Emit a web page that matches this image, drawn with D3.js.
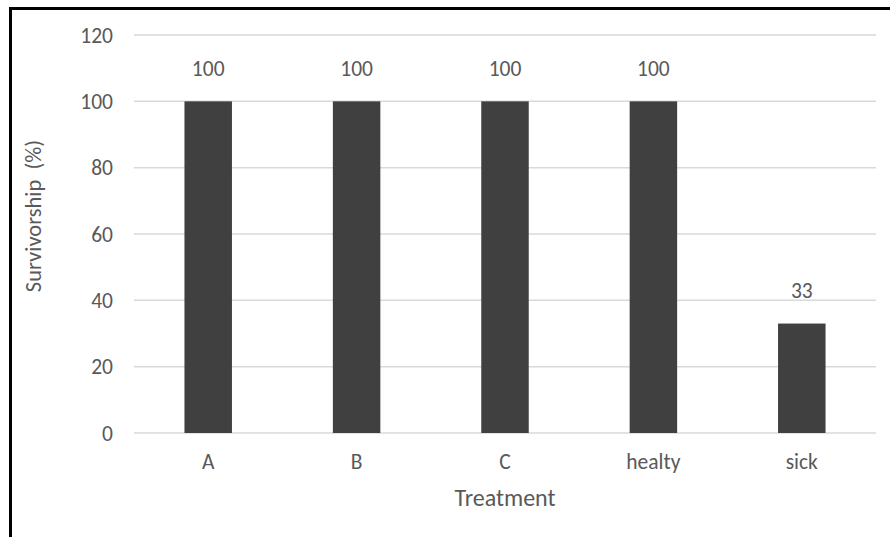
<!DOCTYPE html>
<html>
<head>
<meta charset="utf-8">
<script src="https://cdn.jsdelivr.net/npm/d3@7"></script>
<style>
  html, body { margin: 0; padding: 0; background: #fff; }
  svg text { font-family: Carlito, Lato, "Open Sans", sans-serif; fill: #595959; }
</style>
</head>
<body>
<svg id="chart" width="890" height="537"></svg>
<script>
// Survivorship per treatment group
const categories = ["A", "B", "C", "healty", "sick"];
const survivorship = [100, 100, 100, 100, 33];
const yTicks = [0, 20, 40, 60, 80, 100, 120];

const svg = d3.select("#chart");
const FONT = "Carlito, Lato, 'Open Sans', sans-serif";
const TICK_SIZE = 21.5;

// Frame around the chart area
svg.append("rect")
  .attr("x", 10.5).attr("y", 8.5)
  .attr("width", 900).attr("height", 600)
  .attr("fill", "none").attr("stroke", "#000").attr("stroke-width", 3);

const plot = { left: 134, right: 876, top: 35, bottom: 433 };

const x = d3.scaleBand()
  .domain(categories)
  .range([plot.left, plot.right])
  .paddingInner(0.68)
  .paddingOuter(0.34);

const y = d3.scaleLinear()
  .domain([0, 120])
  .range([plot.bottom, plot.top]);

// Horizontal gridlines
svg.append("g")
  .selectAll("line")
  .data(yTicks)
  .join("line")
  .attr("x1", plot.left).attr("x2", plot.right)
  .attr("y1", d => y(d)).attr("y2", d => y(d))
  .attr("stroke", "#d9d9d9").attr("stroke-width", 1.5);

// Y axis labels
const yAxis = d3.axisLeft(y).tickValues(yTicks).tickSize(0).tickPadding(0);
const gy = svg.append("g").attr("transform", `translate(113,0)`).call(yAxis);
gy.select(".domain").remove();
gy.attr("font-size", null).attr("font-family", null);
gy.selectAll("text")
  .style("font-size", TICK_SIZE + "px")
  .style("font-family", FONT)
  .attr("fill", "#595959")
  .attr("dy", "0.34em");

// Bars
const rows = categories.map((c, i) => ({ c, v: survivorship[i] }));
svg.append("g")
  .selectAll("rect")
  .data(rows)
  .join("rect")
  .attr("x", d => x(d.c))
  .attr("width", x.bandwidth())
  .attr("y", d => y(d.v))
  .attr("height", d => y(0) - y(d.v))
  .attr("fill", "#404040");

// Value labels
svg.append("g")
  .selectAll("text")
  .data(rows)
  .join("text")
  .attr("x", d => x(d.c) + x.bandwidth() / 2)
  .attr("y", d => y(d.v) - 33)
  .attr("dy", "0.34em")
  .attr("text-anchor", "middle")
  .style("font-size", TICK_SIZE + "px")
  .text(d => d.v);

// Category axis
const xAxis = d3.axisBottom(x).tickSize(0).tickPadding(0);
const gx = svg.append("g").attr("transform", `translate(0,${plot.bottom})`).call(xAxis);
gx.select(".domain").remove();
gx.attr("font-size", null).attr("font-family", null);
gx.selectAll("text")
  .style("font-size", TICK_SIZE + "px")
  .style("font-family", FONT)
  .attr("fill", "#595959")
  .attr("y", 29)
  .attr("dy", "0.34em");

// Axis titles
svg.append("text")
  .attr("x", 505)
  .attr("y", 498)
  .attr("dy", "0.34em")
  .attr("text-anchor", "middle")
  .style("font-size", "24px")
  .text("Treatment");

svg.append("text")
  .attr("transform", `translate(33,216) rotate(-90)`)
  .attr("dy", "0.34em")
  .attr("text-anchor", "middle")
  .style("font-size", "22.5px")
  .style("white-space", "pre")
  .text("Survivorship  (%)");
</script>
</body>
</html>
